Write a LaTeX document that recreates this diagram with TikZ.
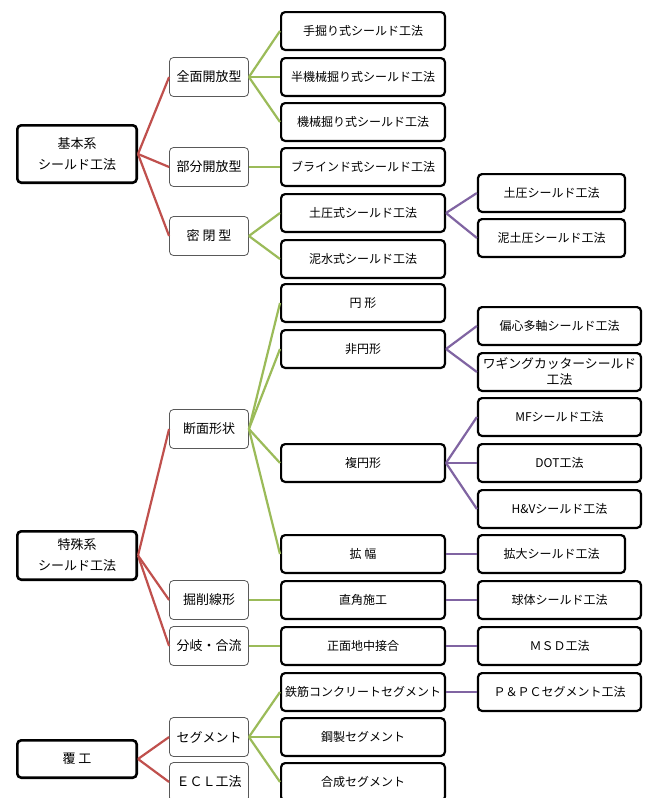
\documentclass[tikz,border=0pt]{standalone}
\usepackage{fontspec}
\setmainfont{Noto Sans CJK JP}
\definecolor{cred}{HTML}{C0504D}
\definecolor{cgreen}{HTML}{9BBB59}
\definecolor{cpurple}{HTML}{8064A2}
\definecolor{cgray}{HTML}{595959}
\begin{document}
\begin{tikzpicture}[x=1pt,y=-1pt,
  box/.style={draw, rounded corners=4pt, align=center, inner sep=1pt, fill=white,
    font=\fontsize{12}{14}\selectfont},
  lone/.style={box, line width=2.6pt, minimum width=119.4pt, font=\fontsize{13}{21}\selectfont},
  ltwo/.style={box, draw=cgray, line width=0.8pt, minimum width=79pt, minimum height=39pt,
    font=\fontsize{13}{16}\selectfont},
  lthree/.style={box, line width=2.2pt, minimum width=163.8pt, minimum height=37.8pt},
  lfour/.style={box, line width=2.2pt, minimum width=147pt, minimum height=37.8pt},
  lfourw/.style={box, line width=2.2pt, minimum width=163pt, minimum height=37.8pt},
  rline/.style={draw=cred, line width=2.2pt},
  gline/.style={draw=cgreen, line width=2.2pt},
  pline/.style={draw=cpurple, line width=2.2pt}]
\useasboundingbox (0,0) rectangle (651,798);
\fill[white] (0,0) rectangle (651,798);

% level 1
\node[lone, minimum height=57.4pt] (kihon) at (77,154) {基本系\\シールド工法};
\node[lone, minimum height=48.4pt] (tokushu) at (77,555.5) {特殊系\\シールド工法};
\node[lone, minimum height=37.4pt] (fukko) at (77,759) {覆 工};

% level 2
\node[ltwo] (zenmen) at (209,77) {全面開放型};
\node[ltwo] (bubun) at (209,167) {部分開放型};
\node[ltwo] (mippei) at (209,236) {密 閉 型};
\node[ltwo] (danmen) at (209,429) {断面形状};
\node[ltwo] (kussaku) at (209,600) {掘削線形};
\node[ltwo] (bunki) at (209,646) {分岐・合流};
\node[ltwo] (segment) at (209,737) {セグメント};
\node[ltwo] (ecl) at (209,782) {ＥＣＬ工法};

% level 3
\node[lthree] (tebori) at (363,31) {手掘り式シールド工法};
\node[lthree] (hankikai) at (363,77) {半機械掘り式シールド工法};
\node[lthree] (kikai) at (363,122) {機械掘り式シールド工法};
\node[lthree] (blind) at (363,167) {ブラインド式シールド工法};
\node[lthree] (doatsu) at (363,213) {土圧式シールド工法};
\node[lthree] (deisui) at (363,259) {泥水式シールド工法};
\node[lthree] (enkei) at (363,303) {円 形};
\node[lthree] (hienkei) at (363,349) {非円形};
\node[lthree] (fukuen) at (363,463) {複円形};
\node[lthree] (kakufuku) at (363,554) {拡 幅};
\node[lthree] (chokkaku) at (363,600) {直角施工};
\node[lthree] (shomen) at (363,646) {正面地中接合};
\node[lthree] (tekkin) at (363,692) {鉄筋コンクリートセグメント};
\node[lthree] (kosei) at (363,737) {鋼製セグメント};
\node[lthree] (gosei) at (363,782) {合成セグメント};

% level 4
\node[lfour] (doatsuS) at (551.5,193) {土圧シールド工法};
\node[lfour] (deidoatsu) at (551.5,238) {泥土圧シールド工法};
\node[lfourw] (henshin) at (559.5,326) {偏心多軸シールド工法};
\node[lfourw, font=\fontsize{12.8}{16}\selectfont] (wagging) at (559.5,372) {ワギングカッターシールド\\工法};
\node[lfourw] (mf) at (559.5,417) {MFシールド工法};
\node[lfourw] (dot) at (559.5,463) {DOT工法};
\node[lfourw] (hv) at (559.5,509) {H\&Vシールド工法};
\node[lfour] (kakudai) at (551.5,554) {拡大シールド工法};
\node[lfourw] (kyutai) at (559.5,600) {球体シールド工法};
\node[lfourw] (msd) at (559.5,646) {ＭＳＤ工法};
\node[lfourw] (ppc) at (559.5,692) {Ｐ＆ＰＣセグメント工法};

% red connectors
\foreach \t in {zenmen,bubun,mippei} \draw[rline] (kihon.east) -- (\t.west);
\foreach \t in {danmen,kussaku,bunki} \draw[rline] (tokushu.east) -- (\t.west);
\foreach \t in {segment,ecl} \draw[rline] (fukko.east) -- (\t.west);

% green connectors
\foreach \t in {tebori,hankikai,kikai} \draw[gline] (zenmen.east) -- (\t.west);
\draw[gline] (bubun.east) -- (blind.west);
\foreach \t in {doatsu,deisui} \draw[gline] (mippei.east) -- (\t.west);
\foreach \t in {enkei,hienkei,fukuen,kakufuku} \draw[gline] (danmen.east) -- (\t.west);
\draw[gline] (kussaku.east) -- (chokkaku.west);
\draw[gline] (bunki.east) -- (shomen.west);
\foreach \t in {tekkin,kosei,gosei} \draw[gline] (segment.east) -- (\t.west);

% purple connectors
\foreach \t in {doatsuS,deidoatsu} \draw[pline] (doatsu.east) -- (\t.west);
\foreach \t in {henshin,wagging} \draw[pline] (hienkei.east) -- (\t.west);
\foreach \t in {mf,dot,hv} \draw[pline] (fukuen.east) -- (\t.west);
\draw[pline] (kakufuku.east) -- (kakudai.west);
\draw[pline] (chokkaku.east) -- (kyutai.west);
\draw[pline] (shomen.east) -- (msd.west);
\draw[pline] (tekkin.east) -- (ppc.west);
\end{tikzpicture}
\end{document}
